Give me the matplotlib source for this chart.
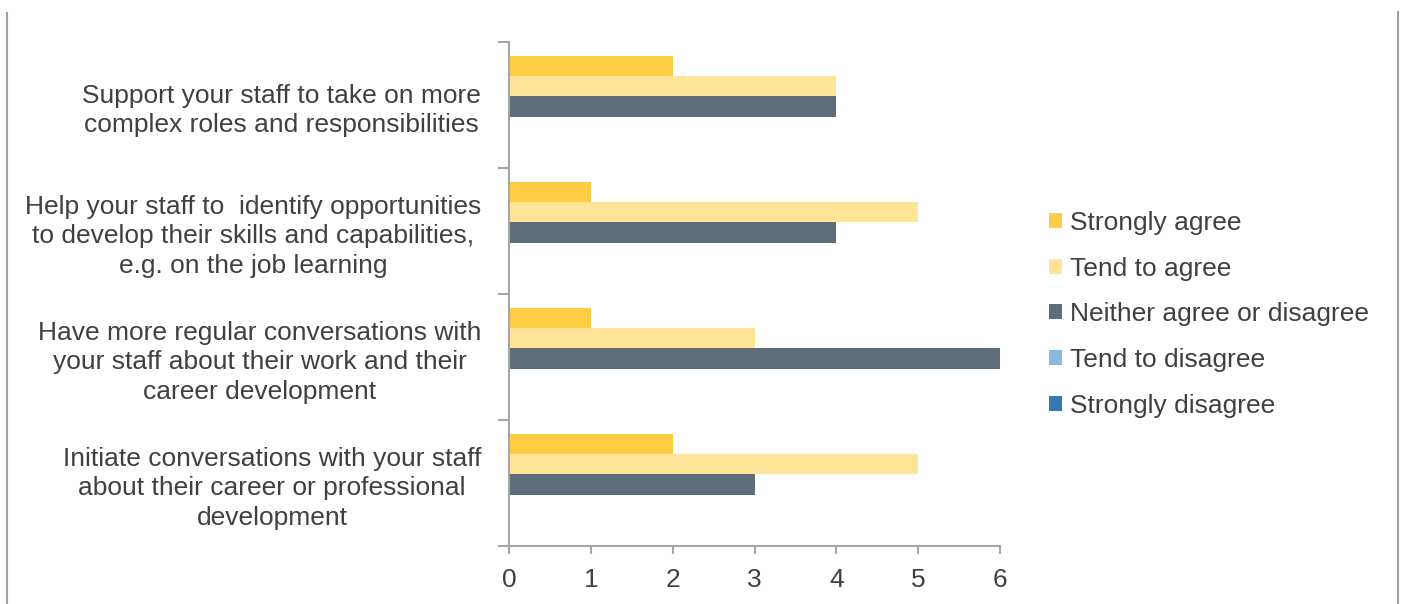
import matplotlib
matplotlib.use("Agg")
import matplotlib.pyplot as plt
from matplotlib.lines import Line2D
import numpy as np

plt.rcParams['font.family'] = ['Liberation Sans', 'DejaVu Sans']

categories = [
    "Initiate conversations with your staff\nabout their career or professional\ndevelopment",
    "Have more regular conversations with\nyour staff about their work and their\ncareer development",
    "Help your staff to  identify opportunities\nto develop their skills and capabilities,\ne.g. on the job learning",
    "Support your staff to take on more\ncomplex roles and responsibilities",
]
series_names = ["Strongly agree", "Tend to agree", "Neither agree or disagree",
                "Tend to disagree", "Strongly disagree"]
strongly_agree = [2, 1, 1, 2]
tend_to_agree = [5, 3, 5, 4]
neither = [3, 6, 4, 4]
tend_to_disagree = [0, 0, 0, 0]
strongly_disagree = [0, 0, 0, 0]
series_values = [strongly_agree, tend_to_agree, neither, tend_to_disagree, strongly_disagree]
colors = ["#FFCD44", "#FFE396", "#5D6E7A", "#89B9DE", "#3A78B1"]
xticks = [0, 1, 2, 3, 4, 5, 6]

text_color = "#404040"
axis_color = "#A6A6A6"
fs = 19

fig = plt.figure(figsize=(14.1, 6.04), dpi=100)
ax = fig.add_axes([509/1410, 58/604, 491/1410, 504/604])

y = np.arange(len(categories))
w = 0.159
offsets = [2, 1, 0, -1, -2]
for name, vals, c, off in zip(series_names, series_values, colors, offsets):
    ax.barh(y + off * w - 0.012, vals, height=w, color=c, label=name)

ax.set_xlim(0, 6)
ax.set_ylim(-0.5, len(categories) - 0.5)
ax.set_xticks(xticks)
ax.set_xticklabels([str(t) for t in xticks])

ax.set_yticks(y)
ax.set_yticklabels(categories, multialignment='center', linespacing=1.3)
ax.set_yticks(np.arange(-0.5, len(categories), 1.0), minor=True)
ax.tick_params(axis='y', which='major', length=0, pad=20, labelsize=fs, labelcolor=text_color)
ax.tick_params(axis='y', which='minor', length=8, width=1.5, color=axis_color)
ax.tick_params(axis='x', which='major', length=6, width=1.5, color=axis_color,
               labelsize=fs, labelcolor=text_color, pad=10)

for s in ['top', 'right']:
    ax.spines[s].set_visible(False)
for s in ['left', 'bottom']:
    ax.spines[s].set_color(axis_color)
    ax.spines[s].set_linewidth(1.5)

leg = ax.legend(loc='upper left', bbox_to_anchor=(1049/1410, 1 - 211/604),
                bbox_transform=fig.transFigure, frameon=False, fontsize=fs,
                handlelength=0.5, handleheight=0.5, handletextpad=0.3,
                labelspacing=0.82, borderaxespad=0, borderpad=0)
for t in leg.get_texts():
    t.set_color(text_color)

fig.add_artist(Line2D([7/1410, 7/1410], [0, 1 - 13/604], transform=fig.transFigure,
                      color="#A0A0A0", linewidth=1.5))
fig.add_artist(Line2D([1398/1410, 1398/1410], [0, 1 - 12/604], transform=fig.transFigure,
                      color="#A0A0A0", linewidth=1.5))

fig.savefig("out.png", dpi=100)
